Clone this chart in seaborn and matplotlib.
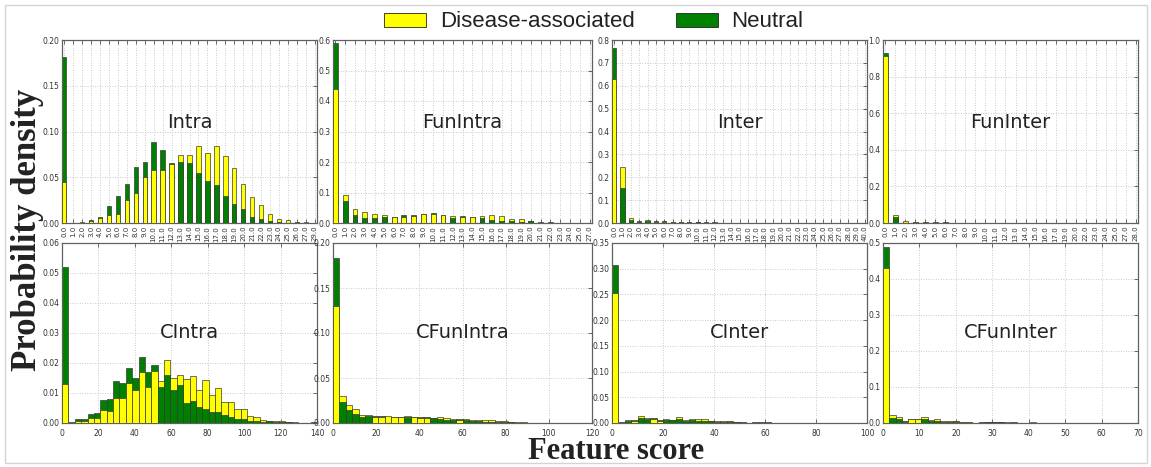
import numpy as np
import pandas as pd
import seaborn as sns
import matplotlib
matplotlib.use("Agg")
import matplotlib.pyplot as plt
from matplotlib.patches import Patch, Rectangle

# ---------------- data ----------------
# top row: discrete feature scores
INTRA_SCORES = list(range(28)) + [29]
INTRA_DIS = [0.045, 0.0, 0.001, 0.002, 0.005, 0.0085, 0.0095, 0.025, 0.033, 0.050, 0.058, 0.058, 0.064, 0.074,
             0.074, 0.084, 0.077, 0.084, 0.073, 0.060, 0.043, 0.028, 0.020, 0.010, 0.0045, 0.0035, 0.0008, 0.001, 0.0]
INTRA_NEU = [0.181, 0.0005, 0.0005, 0.003, 0.007, 0.019, 0.029, 0.043, 0.061, 0.067, 0.088, 0.080, 0.066, 0.067,
             0.066, 0.055, 0.046, 0.041, 0.029, 0.021, 0.015, 0.007, 0.004, 0.0025, 0.001, 0.0005, 0.001, 0.0003, 0.0003]

FUNINTRA_SCORES = list(range(26)) + [27]
FUNINTRA_DIS = [0.44, 0.092, 0.045, 0.035, 0.029, 0.027, 0.019, 0.021, 0.022, 0.028, 0.030, 0.025, 0.023, 0.021,
                0.019, 0.024, 0.025, 0.022, 0.013, 0.013, 0.006, 0.001, 0.001, 0.001, 0.0005, 0.0003, 0.0]
FUNINTRA_NEU = [0.59, 0.072, 0.026, 0.018, 0.018, 0.020, 0.020, 0.027, 0.027, 0.030, 0.032, 0.027, 0.018, 0.023,
                0.021, 0.015, 0.010, 0.008, 0.008, 0.004, 0.006, 0.004, 0.002, 0.001, 0.0008, 0.0005, 0.0003]

INTER_SCORES = list(range(30)) + [40]
INTER_DIS = [0.63, 0.245, 0.024, 0.006, 0.012, 0.005, 0.004, 0.004, 0.003, 0.003, 0.006, 0.002, 0.002, 0.0015,
             0.001, 0.001, 0.001, 0.0005, 0.0005, 0.0003, 0.0003, 0.0002, 0.0002, 0.0001, 0.0001, 0.0001, 0.0001,
             0.0, 0.0, 0.0, 0.0]
INTER_NEU = [0.765, 0.152, 0.012, 0.009, 0.010, 0.008, 0.007, 0.005, 0.004, 0.004, 0.003, 0.004, 0.003, 0.002,
             0.0015, 0.001, 0.001, 0.0008, 0.0005, 0.0005, 0.0003, 0.0003, 0.0002, 0.0002, 0.0001, 0.0001, 0.0001,
             0.0001, 0.0001, 0.0001, 0.0001]

FUNINTER_SCORES = list(range(18)) + [19, 20, 22, 23, 24, 25, 27, 28]
FUNINTER_DIS = [0.915, 0.043, 0.010, 0.003, 0.002, 0.002, 0.001, 0.001, 0.0005, 0.0005, 0.0003, 0.0003, 0.0002,
                0.0002, 0.0001, 0.0001, 0.0001, 0.0001, 0.0, 0.0, 0.0, 0.0, 0.0, 0.0, 0.0, 0.0]
FUNINTER_NEU = [0.93, 0.035, 0.002, 0.007, 0.007, 0.004, 0.004, 0.002, 0.001, 0.001, 0.0005, 0.0005, 0.0003,
                0.0003, 0.0002, 0.0002, 0.0001, 0.0001, 0.0001, 0.0001, 0.0001, 0.0001, 0.0, 0.0, 0.0, 0.0]

# bottom row: histograms (40 bins each)
CINTRA_BIN = 3.5
CINTRA_DIS = [0.013, 0.0, 0.0007, 0.0007, 0.0017, 0.0018, 0.0042, 0.004, 0.0084, 0.0084, 0.0135, 0.011, 0.017,
              0.012, 0.0172, 0.014, 0.021, 0.015, 0.016, 0.0147, 0.0158, 0.011, 0.0143, 0.0093, 0.0117, 0.0069,
              0.0069, 0.0047, 0.0046, 0.0023, 0.002, 0.001, 0.0007, 0.0007, 0.0007, 0.0002, 0.0002, 0.0001, 0.0, 0.0]
CINTRA_NEU = [0.052, 0.0004, 0.0012, 0.0012, 0.003, 0.0035, 0.0077, 0.008, 0.014, 0.0133, 0.0185, 0.015, 0.022,
              0.017, 0.0195, 0.012, 0.016, 0.011, 0.0126, 0.0066, 0.0072, 0.0054, 0.0047, 0.0037, 0.0036, 0.0028,
              0.002, 0.0012, 0.0015, 0.0008, 0.0007, 0.0005, 0.0006, 0.0002, 0.0002, 0.0002, 0.0001, 0.0001,
              0.0001, 0.0002]

CFUNINTRA_BIN = 3.0
CFUNINTRA_DIS = [0.130, 0.030, 0.020, 0.016, 0.0093, 0.0093, 0.0068, 0.0070, 0.0078, 0.0068, 0.0070, 0.0075,
                 0.0065, 0.0060, 0.0060, 0.0060, 0.0063, 0.0055, 0.0045, 0.0030, 0.0040, 0.0038, 0.0030, 0.0035,
                 0.0028, 0.0020, 0.0018, 0.0013, 0.0012, 0.0008, 0.0005, 0.0003, 0.0001, 0.0001, 0.0001, 0.0001,
                 0.0001, 0.0001, 0.0001, 0.0001]
CFUNINTRA_NEU = [0.183, 0.023, 0.014, 0.010, 0.0067, 0.0078, 0.0075, 0.0078, 0.0005, 0.0072, 0.0072, 0.0070,
                 0.0072, 0.0068, 0.0064, 0.0055, 0.0045, 0.0038, 0.0033, 0.0045, 0.0035, 0.0025, 0.0020, 0.0015,
                 0.0015, 0.0010, 0.0012, 0.0007, 0.0005, 0.0005, 0.0004, 0.0004, 0.0002, 0.0001, 0.0001, 0.0001,
                 0.0001, 0.0001, 0.0001, 0.0001]

CINTER_BIN = 2.5
CINTER_DIS = [0.253, 0.0, 0.006, 0.003, 0.0135, 0.009, 0.007, 0.004, 0.0075, 0.0065, 0.011, 0.006, 0.0085,
              0.0075, 0.0075, 0.003, 0.003, 0.003, 0.0025, 0.0025, 0.0015, 0.0005, 0.0005, 0.0005, 0.0005, 0.0005,
              0.0003, 0.0003, 0.0002, 0.0001, 0.0001, 0.0001, 0.0001, 0.0001, 0.0001, 0.0001, 0.0001, 0.0001,
              0.0001, 0.0001]
CINTER_NEU = [0.307, 0.001, 0.003, 0.0055, 0.009, 0.007, 0.009, 0.006, 0.005, 0.005, 0.007, 0.004, 0.005,
              0.004, 0.003, 0.003, 0.002, 0.0015, 0.003, 0.002, 0.002, 0.0005, 0.001, 0.0015, 0.001, 0.0005,
              0.0005, 0.0005, 0.0005, 0.0001, 0.0001, 0.0001, 0.0001, 0.0001, 0.0001, 0.0001, 0.0001, 0.0001,
              0.0001, 0.0001]

CFUNINTER_BIN = 1.75
CFUNINTER_DIS = [0.43, 0.022, 0.018, 0.003, 0.010, 0.010, 0.016, 0.007, 0.011, 0.006, 0.005, 0.004, 0.003,
                 0.002, 0.001, 0.001, 0.004, 0.002, 0.003, 0.003, 0.001, 0.001, 0.001, 0.003, 0.0002, 0.0002,
                 0.0002, 0.0002, 0.0002, 0.0002, 0.0002, 0.0002, 0.0002, 0.0002, 0.0002, 0.0002, 0.0002, 0.0002,
                 0.0002, 0.0002]
CFUNINTER_NEU = [0.49, 0.015, 0.012, 0.005, 0.012, 0.012, 0.010, 0.005, 0.005, 0.004, 0.004, 0.006, 0.004,
                 0.003, 0.001, 0.002, 0.003, 0.002, 0.002, 0.001, 0.002, 0.001, 0.001, 0.001, 0.0002, 0.0002,
                 0.0002, 0.0002, 0.0002, 0.0002, 0.0002, 0.0002, 0.0002, 0.0002, 0.0002, 0.0002, 0.0002, 0.0002,
                 0.0002, 0.0002]

TOP_TITLES = ["Intra", "FunIntra", "Inter", "FunInter"]
BOTTOM_TITLES = ["CIntra", "CFunIntra", "CInter", "CFunInter"]
LEGEND_LABELS = ["Disease-associated", "Neutral"]

# ---------------- style ----------------
YELLOW = "#ffff00"
GREEN = "#008000"
EDGE = "#3a3a3a"
SPINE = "#606060"

plt.rcParams["font.family"] = ["DejaVu Sans"]

W, H = 1151, 467
fig = plt.figure(figsize=(W / 100, H / 100), dpi=100)

col_px = [(62, 255), (333, 259), (612, 255), (883, 255)]
top_y = (40, 223)
bot_y = (243, 423)


def make_ax(col, rowy):
    x0, w = col_px[col]
    y0, y1 = rowy
    return fig.add_axes([x0 / W, (H - y1) / H, w / W, (y1 - y0) / H])


def style_ax(ax):
    ax.set_axisbelow(True)
    ax.grid(True, linestyle=(0, (1, 2)), color="#b8b8b8", linewidth=0.6)
    for s in ax.spines.values():
        s.set_color(SPINE)
        s.set_linewidth(0.9)
    ax.tick_params(direction="in", length=3, width=0.5, colors="#333333", labelsize=5.5,
                   top=True, right=True, pad=2)
    ax.set_xlabel("")
    ax.set_ylabel("")


def layer(ax, n):
    pats = ax.patches
    dis, neu = pats[:n], pats[n:2 * n]
    for d, g in zip(dis, neu):
        if d.get_height() >= g.get_height():
            d.set_zorder(2); g.set_zorder(3)
        else:
            d.set_zorder(3); g.set_zorder(2)


top_data = [
    (INTRA_SCORES, INTRA_DIS, INTRA_NEU, 0.20, 0.05),
    (FUNINTRA_SCORES, FUNINTRA_DIS, FUNINTRA_NEU, 0.6, 0.1),
    (INTER_SCORES, INTER_DIS, INTER_NEU, 0.8, 0.1),
    (FUNINTER_SCORES, FUNINTER_DIS, FUNINTER_NEU, 1.0, 0.2),
]

for i, (scores, dis, neu, ymax, ystep) in enumerate(top_data):
    ax = make_ax(i, top_y)
    labels = [f"{s:.1f}" for s in scores]
    df = pd.DataFrame({"score": labels, "dis": dis, "neu": neu})
    sns.barplot(data=df, x="score", y="dis", order=labels, color=YELLOW, saturation=1, width=0.5,
                edgecolor=EDGE, linewidth=0.5, errorbar=None, ax=ax)
    sns.barplot(data=df, x="score", y="neu", order=labels, color=GREEN, saturation=1, width=0.5,
                edgecolor=EDGE, linewidth=0.5, errorbar=None, ax=ax)
    layer(ax, len(labels))
    n = len(labels)
    ax.set_xlim(-0.25, n - 0.75)
    ax.set_ylim(0, ymax)
    ax.set_yticks(np.arange(0, ymax + ystep / 2, ystep))
    style_ax(ax)
    ax.tick_params(axis="x", labelrotation=90, labelsize=5)
    ax.text(0.5, 0.55, TOP_TITLES[i], transform=ax.transAxes, ha="center", va="center",
            fontsize=14, color="#222222")

bottom_data = [
    (CINTRA_BIN, CINTRA_DIS, CINTRA_NEU, 140, 20, 0.06, 0.01),
    (CFUNINTRA_BIN, CFUNINTRA_DIS, CFUNINTRA_NEU, 120, 20, 0.20, 0.05),
    (CINTER_BIN, CINTER_DIS, CINTER_NEU, 100, 20, 0.35, 0.05),
    (CFUNINTER_BIN, CFUNINTER_DIS, CFUNINTER_NEU, 70, 10, 0.5, 0.1),
]

for i, (bw, dis, neu, xmax, xstep, ymax, ystep) in enumerate(bottom_data):
    ax = make_ax(i, bot_y)
    nb = len(dis)
    centers = (np.arange(nb) + 0.5) * bw
    df = pd.DataFrame({"score": centers, "dis": dis, "neu": neu})
    sns.barplot(data=df, x="score", y="dis", native_scale=True, width=1, color=YELLOW, saturation=1,
                edgecolor=EDGE, linewidth=0.5, errorbar=None, ax=ax)
    sns.barplot(data=df, x="score", y="neu", native_scale=True, width=1, color=GREEN, saturation=1,
                edgecolor=EDGE, linewidth=0.5, errorbar=None, ax=ax)
    layer(ax, nb)
    ax.set_xlim(0, xmax)
    ax.set_ylim(0, ymax)
    ax.set_xticks(np.arange(0, xmax + 1, xstep))
    ax.set_xticklabels([f"{v:g}" for v in np.arange(0, xmax + 1, xstep)])
    ax.set_yticks(np.arange(0, ymax + ystep / 2, ystep))
    style_ax(ax)
    ax.tick_params(axis="x", pad=4)
    ax.text(0.5, 0.5, BOTTOM_TITLES[i], transform=ax.transAxes, ha="center", va="center",
            fontsize=14, color="#222222")

# legend
handles = [Patch(facecolor=YELLOW, edgecolor="#222222", linewidth=0.6),
           Patch(facecolor=GREEN, edgecolor="#222222", linewidth=0.6)]
fig.legend(handles, LEGEND_LABELS, loc="center", bbox_to_anchor=(0.5157, 0.953), ncol=2,
           frameon=False, prop={"family": ["Liberation Sans", "DejaVu Sans"], "size": 16},
           handlelength=1.9, handleheight=0.6, handletextpad=0.6, columnspacing=1.85,
           labelcolor="#222222")

fig.text(0.0235, 0.507, "Probability density", rotation=90, ha="center", va="center",
         family=["Liberation Serif", "DejaVu Serif"], weight="bold", fontsize=25, color="#222222")
fig.text(0.5356, 0.034, "Feature score", ha="center", va="center",
         family=["Liberation Serif", "DejaVu Serif"], weight="bold", fontsize=22, color="#222222")

fig.patches.append(Rectangle((5 / W, 4 / H), (W - 9) / W, (H - 9) / H, transform=fig.transFigure,
                             fill=False, edgecolor="#d4d4d4", linewidth=1.0))

fig.savefig("out.png", dpi=100, facecolor="white")
